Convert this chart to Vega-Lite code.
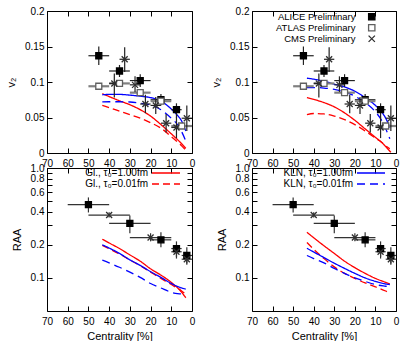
{
"$schema": "https://vega.github.io/schema/vega-lite/v6.json",
"background": "white",
"config": {
  "font": "Liberation Sans",
  "view": {"stroke": "#000", "strokeWidth": 1},
  "axis": {"domain": false, "grid": false, "tickColor": "#000", "tickSize": -5, "labelPadding": 8, "labelFontSize": 10, "titleFontSize": 11, "titleFontWeight": "normal", "labelColor": "#000", "titleColor": "#000", "labelFlush": false, "labelOverlap": false},
  "legend": {"labelFontSize": 10, "padding": 0, "rowPadding": 1, "labelLimit": 300, "labelColor": "#000"}
},
"datasets": {
  "curves": [
    {"col":"L","obs":"v2","s":"Gl., τ₀=1.00fm","c":43.3,"v":0.0835},{"col":"L","obs":"v2","s":"Gl., τ₀=1.00fm","c":40,"v":0.0795},{"col":"L","obs":"v2","s":"Gl., τ₀=1.00fm","c":35,"v":0.0735},{"col":"L","obs":"v2","s":"Gl., τ₀=1.00fm","c":30,"v":0.068},{"col":"L","obs":"v2","s":"Gl., τ₀=1.00fm","c":25,"v":0.061},{"col":"L","obs":"v2","s":"Gl., τ₀=1.00fm","c":20,"v":0.052},{"col":"L","obs":"v2","s":"Gl., τ₀=1.00fm","c":15,"v":0.040},{"col":"L","obs":"v2","s":"Gl., τ₀=1.00fm","c":10,"v":0.027},{"col":"L","obs":"v2","s":"Gl., τ₀=1.00fm","c":5,"v":0.013},{"col":"L","obs":"v2","s":"Gl., τ₀=1.00fm","c":3,"v":0.0066},
    {"col":"L","obs":"v2","s":"Gl., τ₀=0.01fm","c":43.3,"v":0.067},{"col":"L","obs":"v2","s":"Gl., τ₀=0.01fm","c":40,"v":0.064},{"col":"L","obs":"v2","s":"Gl., τ₀=0.01fm","c":35,"v":0.059},{"col":"L","obs":"v2","s":"Gl., τ₀=0.01fm","c":30,"v":0.054},{"col":"L","obs":"v2","s":"Gl., τ₀=0.01fm","c":25,"v":0.049},{"col":"L","obs":"v2","s":"Gl., τ₀=0.01fm","c":20,"v":0.0427},{"col":"L","obs":"v2","s":"Gl., τ₀=0.01fm","c":15,"v":0.035},{"col":"L","obs":"v2","s":"Gl., τ₀=0.01fm","c":10,"v":0.023},{"col":"L","obs":"v2","s":"Gl., τ₀=0.01fm","c":5,"v":0.010},{"col":"L","obs":"v2","s":"Gl., τ₀=0.01fm","c":3,"v":0.004},
    {"col":"L","obs":"v2","s":"KLN, τ₀=1.00fm","c":43.3,"v":0.082},{"col":"L","obs":"v2","s":"KLN, τ₀=1.00fm","c":40,"v":0.0825},{"col":"L","obs":"v2","s":"KLN, τ₀=1.00fm","c":35,"v":0.0825},{"col":"L","obs":"v2","s":"KLN, τ₀=1.00fm","c":30,"v":0.0815},{"col":"L","obs":"v2","s":"KLN, τ₀=1.00fm","c":25,"v":0.080},{"col":"L","obs":"v2","s":"KLN, τ₀=1.00fm","c":20,"v":0.078},{"col":"L","obs":"v2","s":"KLN, τ₀=1.00fm","c":15,"v":0.073},{"col":"L","obs":"v2","s":"KLN, τ₀=1.00fm","c":10,"v":0.062},{"col":"L","obs":"v2","s":"KLN, τ₀=1.00fm","c":7,"v":0.053},{"col":"L","obs":"v2","s":"KLN, τ₀=1.00fm","c":5,"v":0.045},{"col":"L","obs":"v2","s":"KLN, τ₀=1.00fm","c":3,"v":0.031},
    {"col":"L","obs":"v2","s":"KLN, τ₀=0.01fm","c":43.3,"v":0.072},{"col":"L","obs":"v2","s":"KLN, τ₀=0.01fm","c":40,"v":0.0722},{"col":"L","obs":"v2","s":"KLN, τ₀=0.01fm","c":35,"v":0.0722},{"col":"L","obs":"v2","s":"KLN, τ₀=0.01fm","c":30,"v":0.0718},{"col":"L","obs":"v2","s":"KLN, τ₀=0.01fm","c":25,"v":0.070},{"col":"L","obs":"v2","s":"KLN, τ₀=0.01fm","c":20,"v":0.0675},{"col":"L","obs":"v2","s":"KLN, τ₀=0.01fm","c":15,"v":0.061},{"col":"L","obs":"v2","s":"KLN, τ₀=0.01fm","c":10,"v":0.049},{"col":"L","obs":"v2","s":"KLN, τ₀=0.01fm","c":7,"v":0.040},{"col":"L","obs":"v2","s":"KLN, τ₀=0.01fm","c":5,"v":0.030},{"col":"L","obs":"v2","s":"KLN, τ₀=0.01fm","c":3,"v":0.017},

    {"col":"R","obs":"v2","s":"Gl., τ₀=1.00fm","c":43.3,"v":0.078},{"col":"R","obs":"v2","s":"Gl., τ₀=1.00fm","c":40,"v":0.0755},{"col":"R","obs":"v2","s":"Gl., τ₀=1.00fm","c":35,"v":0.071},{"col":"R","obs":"v2","s":"Gl., τ₀=1.00fm","c":30,"v":0.065},{"col":"R","obs":"v2","s":"Gl., τ₀=1.00fm","c":25,"v":0.0565},{"col":"R","obs":"v2","s":"Gl., τ₀=1.00fm","c":20,"v":0.046},{"col":"R","obs":"v2","s":"Gl., τ₀=1.00fm","c":15,"v":0.034},{"col":"R","obs":"v2","s":"Gl., τ₀=1.00fm","c":10,"v":0.022},{"col":"R","obs":"v2","s":"Gl., τ₀=1.00fm","c":7,"v":0.015},{"col":"R","obs":"v2","s":"Gl., τ₀=1.00fm","c":5,"v":0.009},{"col":"R","obs":"v2","s":"Gl., τ₀=1.00fm","c":2.5,"v":0.001},
    {"col":"R","obs":"v2","s":"Gl., τ₀=0.01fm","c":43.3,"v":0.054},{"col":"R","obs":"v2","s":"Gl., τ₀=0.01fm","c":40,"v":0.0556},{"col":"R","obs":"v2","s":"Gl., τ₀=0.01fm","c":35,"v":0.055},{"col":"R","obs":"v2","s":"Gl., τ₀=0.01fm","c":30,"v":0.052},{"col":"R","obs":"v2","s":"Gl., τ₀=0.01fm","c":25,"v":0.047},{"col":"R","obs":"v2","s":"Gl., τ₀=0.01fm","c":20,"v":0.040},{"col":"R","obs":"v2","s":"Gl., τ₀=0.01fm","c":15,"v":0.031},{"col":"R","obs":"v2","s":"Gl., τ₀=0.01fm","c":10,"v":0.021},{"col":"R","obs":"v2","s":"Gl., τ₀=0.01fm","c":7,"v":0.015},{"col":"R","obs":"v2","s":"Gl., τ₀=0.01fm","c":5,"v":0.010},{"col":"R","obs":"v2","s":"Gl., τ₀=0.01fm","c":3,"v":0.006},
    {"col":"R","obs":"v2","s":"KLN, τ₀=1.00fm","c":43.3,"v":0.1054},{"col":"R","obs":"v2","s":"KLN, τ₀=1.00fm","c":40,"v":0.104},{"col":"R","obs":"v2","s":"KLN, τ₀=1.00fm","c":35,"v":0.101},{"col":"R","obs":"v2","s":"KLN, τ₀=1.00fm","c":30,"v":0.097},{"col":"R","obs":"v2","s":"KLN, τ₀=1.00fm","c":25,"v":0.093},{"col":"R","obs":"v2","s":"KLN, τ₀=1.00fm","c":20,"v":0.087},{"col":"R","obs":"v2","s":"KLN, τ₀=1.00fm","c":15,"v":0.078},{"col":"R","obs":"v2","s":"KLN, τ₀=1.00fm","c":10,"v":0.067},{"col":"R","obs":"v2","s":"KLN, τ₀=1.00fm","c":7,"v":0.058},{"col":"R","obs":"v2","s":"KLN, τ₀=1.00fm","c":5,"v":0.049},{"col":"R","obs":"v2","s":"KLN, τ₀=1.00fm","c":3,"v":0.036},
    {"col":"R","obs":"v2","s":"KLN, τ₀=0.01fm","c":43.3,"v":0.092},{"col":"R","obs":"v2","s":"KLN, τ₀=0.01fm","c":40,"v":0.0922},{"col":"R","obs":"v2","s":"KLN, τ₀=0.01fm","c":35,"v":0.0915},{"col":"R","obs":"v2","s":"KLN, τ₀=0.01fm","c":30,"v":0.0895},{"col":"R","obs":"v2","s":"KLN, τ₀=0.01fm","c":25,"v":0.086},{"col":"R","obs":"v2","s":"KLN, τ₀=0.01fm","c":20,"v":0.080},{"col":"R","obs":"v2","s":"KLN, τ₀=0.01fm","c":15,"v":0.071},{"col":"R","obs":"v2","s":"KLN, τ₀=0.01fm","c":10,"v":0.058},{"col":"R","obs":"v2","s":"KLN, τ₀=0.01fm","c":7,"v":0.046},{"col":"R","obs":"v2","s":"KLN, τ₀=0.01fm","c":5,"v":0.034},{"col":"R","obs":"v2","s":"KLN, τ₀=0.01fm","c":3,"v":0.020},

    {"col":"L","obs":"raa","s":"Gl., τ₀=1.00fm","c":43.3,"v":0.225},{"col":"L","obs":"raa","s":"Gl., τ₀=1.00fm","c":40,"v":0.208},{"col":"L","obs":"raa","s":"Gl., τ₀=1.00fm","c":35,"v":0.185},{"col":"L","obs":"raa","s":"Gl., τ₀=1.00fm","c":30,"v":0.162},{"col":"L","obs":"raa","s":"Gl., τ₀=1.00fm","c":25,"v":0.142},{"col":"L","obs":"raa","s":"Gl., τ₀=1.00fm","c":20,"v":0.121},{"col":"L","obs":"raa","s":"Gl., τ₀=1.00fm","c":15,"v":0.106},{"col":"L","obs":"raa","s":"Gl., τ₀=1.00fm","c":10,"v":0.091},{"col":"L","obs":"raa","s":"Gl., τ₀=1.00fm","c":5,"v":0.074},{"col":"L","obs":"raa","s":"Gl., τ₀=1.00fm","c":3,"v":0.066},
    {"col":"L","obs":"raa","s":"Gl., τ₀=0.01fm","c":43.3,"v":0.198},{"col":"L","obs":"raa","s":"Gl., τ₀=0.01fm","c":40,"v":0.184},{"col":"L","obs":"raa","s":"Gl., τ₀=0.01fm","c":35,"v":0.165},{"col":"L","obs":"raa","s":"Gl., τ₀=0.01fm","c":30,"v":0.146},{"col":"L","obs":"raa","s":"Gl., τ₀=0.01fm","c":25,"v":0.129},{"col":"L","obs":"raa","s":"Gl., τ₀=0.01fm","c":20,"v":0.113},{"col":"L","obs":"raa","s":"Gl., τ₀=0.01fm","c":15,"v":0.099},{"col":"L","obs":"raa","s":"Gl., τ₀=0.01fm","c":10,"v":0.087},{"col":"L","obs":"raa","s":"Gl., τ₀=0.01fm","c":5,"v":0.076},{"col":"L","obs":"raa","s":"Gl., τ₀=0.01fm","c":3,"v":0.071},
    {"col":"L","obs":"raa","s":"KLN, τ₀=1.00fm","c":43.3,"v":0.200},{"col":"L","obs":"raa","s":"KLN, τ₀=1.00fm","c":40,"v":0.187},{"col":"L","obs":"raa","s":"KLN, τ₀=1.00fm","c":35,"v":0.167},{"col":"L","obs":"raa","s":"KLN, τ₀=1.00fm","c":30,"v":0.146},{"col":"L","obs":"raa","s":"KLN, τ₀=1.00fm","c":25,"v":0.130},{"col":"L","obs":"raa","s":"KLN, τ₀=1.00fm","c":20,"v":0.114},{"col":"L","obs":"raa","s":"KLN, τ₀=1.00fm","c":15,"v":0.101},{"col":"L","obs":"raa","s":"KLN, τ₀=1.00fm","c":10,"v":0.089},{"col":"L","obs":"raa","s":"KLN, τ₀=1.00fm","c":5,"v":0.081},{"col":"L","obs":"raa","s":"KLN, τ₀=1.00fm","c":3,"v":0.079},
    {"col":"L","obs":"raa","s":"KLN, τ₀=0.01fm","c":43.3,"v":0.145},{"col":"L","obs":"raa","s":"KLN, τ₀=0.01fm","c":40,"v":0.137},{"col":"L","obs":"raa","s":"KLN, τ₀=0.01fm","c":35,"v":0.125},{"col":"L","obs":"raa","s":"KLN, τ₀=0.01fm","c":30,"v":0.113},{"col":"L","obs":"raa","s":"KLN, τ₀=0.01fm","c":25,"v":0.101},{"col":"L","obs":"raa","s":"KLN, τ₀=0.01fm","c":20,"v":0.089},{"col":"L","obs":"raa","s":"KLN, τ₀=0.01fm","c":15,"v":0.081},{"col":"L","obs":"raa","s":"KLN, τ₀=0.01fm","c":10,"v":0.074},{"col":"L","obs":"raa","s":"KLN, τ₀=0.01fm","c":7,"v":0.072},{"col":"L","obs":"raa","s":"KLN, τ₀=0.01fm","c":5,"v":0.0715},{"col":"L","obs":"raa","s":"KLN, τ₀=0.01fm","c":3,"v":0.073},

    {"col":"R","obs":"raa","s":"Gl., τ₀=1.00fm","c":43.3,"v":0.26},{"col":"R","obs":"raa","s":"Gl., τ₀=1.00fm","c":40,"v":0.232},{"col":"R","obs":"raa","s":"Gl., τ₀=1.00fm","c":35,"v":0.196},{"col":"R","obs":"raa","s":"Gl., τ₀=1.00fm","c":30,"v":0.167},{"col":"R","obs":"raa","s":"Gl., τ₀=1.00fm","c":25,"v":0.142},{"col":"R","obs":"raa","s":"Gl., τ₀=1.00fm","c":20,"v":0.124},{"col":"R","obs":"raa","s":"Gl., τ₀=1.00fm","c":15,"v":0.110},{"col":"R","obs":"raa","s":"Gl., τ₀=1.00fm","c":10,"v":0.099},{"col":"R","obs":"raa","s":"Gl., τ₀=1.00fm","c":5,"v":0.091},{"col":"R","obs":"raa","s":"Gl., τ₀=1.00fm","c":3,"v":0.088},
    {"col":"R","obs":"raa","s":"Gl., τ₀=0.01fm","c":43.3,"v":0.21},{"col":"R","obs":"raa","s":"Gl., τ₀=0.01fm","c":40,"v":0.182},{"col":"R","obs":"raa","s":"Gl., τ₀=0.01fm","c":35,"v":0.150},{"col":"R","obs":"raa","s":"Gl., τ₀=0.01fm","c":30,"v":0.126},{"col":"R","obs":"raa","s":"Gl., τ₀=0.01fm","c":25,"v":0.110},{"col":"R","obs":"raa","s":"Gl., τ₀=0.01fm","c":20,"v":0.099},{"col":"R","obs":"raa","s":"Gl., τ₀=0.01fm","c":15,"v":0.090},{"col":"R","obs":"raa","s":"Gl., τ₀=0.01fm","c":10,"v":0.083},{"col":"R","obs":"raa","s":"Gl., τ₀=0.01fm","c":5,"v":0.076},{"col":"R","obs":"raa","s":"Gl., τ₀=0.01fm","c":3,"v":0.073},
    {"col":"R","obs":"raa","s":"KLN, τ₀=1.00fm","c":43.3,"v":0.186},{"col":"R","obs":"raa","s":"KLN, τ₀=1.00fm","c":40,"v":0.172},{"col":"R","obs":"raa","s":"KLN, τ₀=1.00fm","c":35,"v":0.153},{"col":"R","obs":"raa","s":"KLN, τ₀=1.00fm","c":30,"v":0.136},{"col":"R","obs":"raa","s":"KLN, τ₀=1.00fm","c":25,"v":0.122},{"col":"R","obs":"raa","s":"KLN, τ₀=1.00fm","c":20,"v":0.110},{"col":"R","obs":"raa","s":"KLN, τ₀=1.00fm","c":15,"v":0.100},{"col":"R","obs":"raa","s":"KLN, τ₀=1.00fm","c":10,"v":0.093},{"col":"R","obs":"raa","s":"KLN, τ₀=1.00fm","c":5,"v":0.088},{"col":"R","obs":"raa","s":"KLN, τ₀=1.00fm","c":3,"v":0.087},
    {"col":"R","obs":"raa","s":"KLN, τ₀=0.01fm","c":43.3,"v":0.160},{"col":"R","obs":"raa","s":"KLN, τ₀=0.01fm","c":40,"v":0.150},{"col":"R","obs":"raa","s":"KLN, τ₀=0.01fm","c":35,"v":0.137},{"col":"R","obs":"raa","s":"KLN, τ₀=0.01fm","c":30,"v":0.122},{"col":"R","obs":"raa","s":"KLN, τ₀=0.01fm","c":25,"v":0.110},{"col":"R","obs":"raa","s":"KLN, τ₀=0.01fm","c":20,"v":0.100},{"col":"R","obs":"raa","s":"KLN, τ₀=0.01fm","c":15,"v":0.093},{"col":"R","obs":"raa","s":"KLN, τ₀=0.01fm","c":10,"v":0.087},{"col":"R","obs":"raa","s":"KLN, τ₀=0.01fm","c":5,"v":0.084},{"col":"R","obs":"raa","s":"KLN, τ₀=0.01fm","c":3,"v":0.083}
  ],
  "v2pts": [
    {"exp":"ALICE Preliminary","c":45,"clo":40,"chi":50,"v":0.137,"vlo":0.124,"vhi":0.150},
    {"exp":"ALICE Preliminary","c":35,"clo":30,"chi":40,"v":0.1155,"vlo":0.107,"vhi":0.124},
    {"exp":"ALICE Preliminary","c":25,"clo":20,"chi":30,"v":0.102,"vlo":0.093,"vhi":0.111},
    {"exp":"ALICE Preliminary","c":15,"clo":10,"chi":20,"v":0.075,"vlo":0.067,"vhi":0.083},
    {"exp":"ALICE Preliminary","c":7.5,"clo":5,"chi":10,"v":0.061,"vlo":0.050,"vhi":0.070},
    {"exp":"ATLAS Preliminary","c":45,"clo":40,"chi":50,"v":0.094,"vlo":0.092,"vhi":0.096},
    {"exp":"ATLAS Preliminary","c":35,"clo":30,"chi":40,"v":0.098,"vlo":0.096,"vhi":0.100},
    {"exp":"ATLAS Preliminary","c":25,"clo":20,"chi":30,"v":0.085,"vlo":0.083,"vhi":0.087},
    {"exp":"ATLAS Preliminary","c":15,"clo":10,"chi":20,"v":0.073,"vlo":0.071,"vhi":0.075},
    {"exp":"ATLAS Preliminary","c":5,"clo":0,"chi":10,"v":0.038,"vlo":0.036,"vhi":0.040},
    {"exp":"CMS Preliminary","c":37.5,"clo":35,"chi":40,"v":0.098,"vlo":0.078,"vhi":0.112},
    {"exp":"CMS Preliminary","c":32.5,"clo":30,"chi":35,"v":0.132,"vlo":0.114,"vhi":0.149},
    {"exp":"CMS Preliminary","c":27.5,"clo":25,"chi":30,"v":0.096,"vlo":0.086,"vhi":0.108},
    {"exp":"CMS Preliminary","c":22.5,"clo":20,"chi":25,"v":0.069,"vlo":0.056,"vhi":0.082},
    {"exp":"CMS Preliminary","c":17.5,"clo":15,"chi":20,"v":0.067,"vlo":0.055,"vhi":0.079},
    {"exp":"CMS Preliminary","c":12.5,"clo":10,"chi":15,"v":0.042,"vlo":0.029,"vhi":0.055},
    {"exp":"CMS Preliminary","c":7.5,"clo":5,"chi":10,"v":0.036,"vlo":0.021,"vhi":0.051},
    {"exp":"CMS Preliminary","c":2.5,"clo":0,"chi":5,"v":0.049,"vlo":0.031,"vhi":0.067}
  ],
  "raapts": [
    {"exp":"ALICE Preliminary","c":50,"clo":40,"chi":60,"v":0.464,"vlo":0.394,"vhi":0.54},
    {"exp":"ALICE Preliminary","c":30,"clo":20,"chi":40,"v":0.313,"vlo":0.255,"vhi":0.37},
    {"exp":"ALICE Preliminary","c":15,"clo":10,"chi":20,"v":0.222,"vlo":0.19,"vhi":0.26},
    {"exp":"ALICE Preliminary","c":7.5,"clo":5,"chi":10,"v":0.185,"vlo":0.15,"vhi":0.215},
    {"exp":"ALICE Preliminary","c":2.5,"clo":0,"chi":5,"v":0.16,"vlo":0.132,"vhi":0.19},
    {"exp":"CMS Preliminary","c":40,"clo":30,"chi":50,"v":0.373,"vlo":0.355,"vhi":0.395},
    {"exp":"CMS Preliminary","c":20,"clo":10,"chi":30,"v":0.233,"vlo":0.215,"vhi":0.255},
    {"exp":"CMS Preliminary","c":7.5,"clo":5,"chi":10,"v":0.173,"vlo":0.155,"vhi":0.19},
    {"exp":"CMS Preliminary","c":2.5,"clo":0,"chi":5,"v":0.148,"vlo":0.135,"vhi":0.165}
  ]
},
"columns": 2,
"bounds": "flush",
"spacing": {"row": 15, "column": 60},
"resolve": {
  "scale": {"x": "independent", "y": "independent", "color": "independent", "strokeDash": "independent", "strokeWidth": "independent", "shape": "independent", "fill": "independent", "stroke": "independent"},
  "legend": {"color": "independent", "strokeDash": "independent", "strokeWidth": "independent", "shape": "independent", "fill": "independent", "stroke": "independent"}
},
"concat": [
  {
    "width": 145, "height": 142,
    "resolve": {"axis": {"x": "independent", "y": "independent"}},
    "layer": [
      {"layer": [
        {"data": {"name": "curves"}, "transform": [{"filter": "datum.col==='L' && datum.obs==='v2'"}],
         "mark": {"type": "line", "interpolate": "monotone"},
         "encoding": {
           "x": {"field": "c", "type": "quantitative", "scale": {"domain": [0, 70], "reverse": true, "nice": false, "zero": false}, "axis": {"values": [0,10,20,30,40,50,60,70], "tickCount": 50, "format": "d", "title": null, "labelOverlap": false, "labelPadding": 10}},
           "y": {"field": "v", "type": "quantitative", "scale": {"domain": [0, 0.2], "nice": false}, "axis": {"values": [0,0.05,0.1,0.15,0.2], "tickCount": 50, "format": ".2~f", "title": "v₂", "titlePadding": 8, "labelOverlap": false}},
           "color": {"field": "s", "type": "nominal", "scale": {"domain": ["Gl., τ₀=1.00fm","Gl., τ₀=0.01fm","KLN, τ₀=1.00fm","KLN, τ₀=0.01fm"], "range": ["#ff0000","#ff0000","#0000ff","#0000ff"]}, "legend": null},
           "strokeDash": {"field": "s", "type": "nominal", "scale": {"domain": ["Gl., τ₀=1.00fm","Gl., τ₀=0.01fm","KLN, τ₀=1.00fm","KLN, τ₀=0.01fm"], "range": [[1,0],[7,4],[1,0],[8,5]]}, "legend": null},
           "strokeWidth": {"field": "s", "type": "nominal", "scale": {"domain": ["Gl., τ₀=1.00fm","Gl., τ₀=0.01fm","KLN, τ₀=1.00fm","KLN, τ₀=0.01fm"], "range": [1.3,1.3,2.8,2.8]}, "legend": null}
         }},
        {"data": {"name": "v2pts"}, "mark": {"type": "rule"},
         "encoding": {"x": {"field": "clo", "type": "quantitative"}, "x2": {"field": "chi"}, "y": {"field": "v", "type": "quantitative"},
           "stroke": {"condition": {"test": "datum.exp==='ATLAS Preliminary'", "value": "#808080"}, "value": "#222"},
           "strokeWidth": {"condition": {"test": "datum.exp==='ATLAS Preliminary'", "value": 2.2}, "value": 1.2}}},
        {"data": {"name": "v2pts"}, "mark": {"type": "rule"},
         "encoding": {"x": {"field": "c", "type": "quantitative"}, "y": {"field": "vlo", "type": "quantitative"}, "y2": {"field": "vhi"},
           "stroke": {"condition": {"test": "datum.exp==='ATLAS Preliminary'", "value": "#808080"}, "value": "#222"},
           "strokeWidth": {"condition": {"test": "datum.exp==='ATLAS Preliminary'", "value": 2.2}, "value": 1.2}}},
        {"data": {"name": "v2pts"}, "mark": {"type": "point", "size": 36, "strokeWidth": 1.3, "opacity": 1, "fillOpacity": 1},
         "encoding": {"x": {"field": "c", "type": "quantitative"}, "y": {"field": "v", "type": "quantitative"},
           "shape": {"field": "exp", "type": "nominal", "scale": {"domain": ["ALICE Preliminary","ATLAS Preliminary","CMS Preliminary"], "range": ["square","square","M-1,-1L1,1M-1,1L1,-1"]}, "legend": null},
           "fill": {"field": "exp", "type": "nominal", "scale": {"domain": ["ALICE Preliminary","ATLAS Preliminary","CMS Preliminary"], "range": ["#000000","#ffffff","transparent"]}, "legend": null},
           "stroke": {"field": "exp", "type": "nominal", "scale": {"domain": ["ALICE Preliminary","ATLAS Preliminary","CMS Preliminary"], "range": ["#000000","#606060","#303030"]}, "legend": null}}}
      ]},
      {"data": {"name": "v2pts"}, "mark": {"type": "point", "opacity": 0},
       "encoding": {
         "x": {"field": "c", "type": "quantitative", "scale": {"domain": [0, 70], "reverse": true, "nice": false, "zero": false}, "axis": {"orient": "top", "values": [0,10,20,30,40,50,60,70], "tickCount": 50, "labels": false, "title": null}},
         "y": {"field": "v", "type": "quantitative", "scale": {"domain": [0, 0.2], "nice": false}, "axis": {"orient": "right", "values": [0,0.05,0.1,0.15,0.2], "tickCount": 50, "labels": false, "title": null}}}}
    ]
  },
  {
    "width": 144, "height": 142,
    "resolve": {"axis": {"x": "independent", "y": "independent"}},
    "layer": [
      {"layer": [
        {"data": {"name": "curves"}, "transform": [{"filter": "datum.col==='R' && datum.obs==='v2'"}],
         "mark": {"type": "line", "interpolate": "monotone"},
         "encoding": {
           "x": {"field": "c", "type": "quantitative", "scale": {"domain": [0, 70], "reverse": true, "nice": false, "zero": false}, "axis": {"values": [0,10,20,30,40,50,60,70], "tickCount": 50, "format": "d", "title": null, "labelOverlap": false, "labelPadding": 10}},
           "y": {"field": "v", "type": "quantitative", "scale": {"domain": [0, 0.2], "nice": false}, "axis": {"values": [0,0.05,0.1,0.15,0.2], "tickCount": 50, "format": ".2~f", "title": "v₂", "titlePadding": 8, "labelOverlap": false}},
           "color": {"field": "s", "type": "nominal", "scale": {"domain": ["Gl., τ₀=1.00fm","Gl., τ₀=0.01fm","KLN, τ₀=1.00fm","KLN, τ₀=0.01fm"], "range": ["#ff0000","#ff0000","#0000ff","#0000ff"]}, "legend": null},
           "strokeDash": {"field": "s", "type": "nominal", "scale": {"domain": ["Gl., τ₀=1.00fm","Gl., τ₀=0.01fm","KLN, τ₀=1.00fm","KLN, τ₀=0.01fm"], "range": [[1,0],[7,4],[1,0],[8,5]]}, "legend": null},
           "strokeWidth": {"field": "s", "type": "nominal", "scale": {"domain": ["Gl., τ₀=1.00fm","Gl., τ₀=0.01fm","KLN, τ₀=1.00fm","KLN, τ₀=0.01fm"], "range": [1.3,1.3,2.8,2.8]}, "legend": null}
         }},
        {"data": {"name": "v2pts"}, "mark": {"type": "rule"},
         "encoding": {"x": {"field": "clo", "type": "quantitative"}, "x2": {"field": "chi"}, "y": {"field": "v", "type": "quantitative"},
           "stroke": {"condition": {"test": "datum.exp==='ATLAS Preliminary'", "value": "#808080"}, "value": "#222"},
           "strokeWidth": {"condition": {"test": "datum.exp==='ATLAS Preliminary'", "value": 2.2}, "value": 1.2}}},
        {"data": {"name": "v2pts"}, "mark": {"type": "rule"},
         "encoding": {"x": {"field": "c", "type": "quantitative"}, "y": {"field": "vlo", "type": "quantitative"}, "y2": {"field": "vhi"},
           "stroke": {"condition": {"test": "datum.exp==='ATLAS Preliminary'", "value": "#808080"}, "value": "#222"},
           "strokeWidth": {"condition": {"test": "datum.exp==='ATLAS Preliminary'", "value": 2.2}, "value": 1.2}}},
        {"data": {"name": "v2pts"}, "mark": {"type": "point", "size": 36, "strokeWidth": 1.3, "opacity": 1, "fillOpacity": 1},
         "encoding": {"x": {"field": "c", "type": "quantitative"}, "y": {"field": "v", "type": "quantitative"},
           "shape": {"field": "exp", "type": "nominal", "scale": {"domain": ["ALICE Preliminary","ATLAS Preliminary","CMS Preliminary"], "range": ["square","square","M-1,-1L1,1M-1,1L1,-1"]}, "legend": {"title": null, "orient": "none", "legendX": 115, "legendY": 1, "labelAlign": "right", "labelOffset": -21, "symbolSize": 40, "symbolStrokeWidth": 1.3, "labelFontSize": 9.5, "rowPadding": -4}},
           "fill": {"field": "exp", "type": "nominal", "scale": {"domain": ["ALICE Preliminary","ATLAS Preliminary","CMS Preliminary"], "range": ["#000000","#ffffff","transparent"]}, "legend": {"title": null, "orient": "none", "legendX": 115, "legendY": 1, "labelAlign": "right", "labelOffset": -21, "symbolSize": 40, "symbolStrokeWidth": 1.3, "labelFontSize": 9.5, "rowPadding": -4}},
           "stroke": {"field": "exp", "type": "nominal", "scale": {"domain": ["ALICE Preliminary","ATLAS Preliminary","CMS Preliminary"], "range": ["#000000","#606060","#303030"]}, "legend": {"title": null, "orient": "none", "legendX": 115, "legendY": 1, "labelAlign": "right", "labelOffset": -21, "symbolSize": 40, "symbolStrokeWidth": 1.3, "labelFontSize": 9.5, "rowPadding": -4}}}}
      ]},
      {"data": {"name": "v2pts"}, "mark": {"type": "point", "opacity": 0},
       "encoding": {
         "x": {"field": "c", "type": "quantitative", "scale": {"domain": [0, 70], "reverse": true, "nice": false, "zero": false}, "axis": {"orient": "top", "values": [0,10,20,30,40,50,60,70], "tickCount": 50, "labels": false, "title": null}},
         "y": {"field": "v", "type": "quantitative", "scale": {"domain": [0, 0.2], "nice": false}, "axis": {"orient": "right", "values": [0,0.05,0.1,0.15,0.2], "tickCount": 50, "labels": false, "title": null}}}}
    ]
  },
  {
    "width": 145, "height": 143,
    "resolve": {"axis": {"x": "independent", "y": "independent"}},
    "layer": [
      {"layer": [
        {"data": {"name": "curves"}, "transform": [{"filter": "datum.col==='L' && datum.obs==='raa'"}],
         "mark": {"type": "line", "interpolate": "monotone"},
         "encoding": {
           "x": {"field": "c", "type": "quantitative", "scale": {"domain": [0, 70], "reverse": true, "nice": false, "zero": false}, "axis": {"values": [0,10,20,30,40,50,60,70], "tickCount": 50, "format": "d", "title": "Centrality [%]", "labelOverlap": false, "labelPadding": 10}},
           "y": {"field": "v", "type": "quantitative", "scale": {"type": "log", "domain": [0.05, 1], "nice": false}, "axis": {"values": [0.1,0.2,0.3,0.4,0.5,0.6,0.7,0.8,0.9,1], "tickCount": 50, "labelExpr": "(abs(datum.value-0.3)<0.01||abs(datum.value-0.5)<0.01||abs(datum.value-0.7)<0.01||abs(datum.value-0.9)<0.01) ? '' : format(datum.value, '.1f')", "title": "RAA", "titlePadding": 8, "labelOverlap": false}},
           "color": {"field": "s", "type": "nominal", "scale": {"domain": ["Gl., τ₀=1.00fm","Gl., τ₀=0.01fm","KLN, τ₀=1.00fm","KLN, τ₀=0.01fm"], "range": ["#ff0000","#ff0000","#0000ff","#0000ff"]}, "legend": {"title": null, "orient": "none", "legendX": 113, "legendY": -1, "values": ["Gl., τ₀=1.00fm","Gl., τ₀=0.01fm"], "symbolType": "M-2.8,0H2.8", "symbolSize": 100, "labelAlign": "right", "labelOffset": -24, "rowPadding": -1}},
           "strokeDash": {"field": "s", "type": "nominal", "scale": {"domain": ["Gl., τ₀=1.00fm","Gl., τ₀=0.01fm","KLN, τ₀=1.00fm","KLN, τ₀=0.01fm"], "range": [[1,0],[7,4],[1,0],[8,5]]}, "legend": {"title": null, "orient": "none", "legendX": 113, "legendY": -1, "values": ["Gl., τ₀=1.00fm","Gl., τ₀=0.01fm"], "symbolType": "M-2.8,0H2.8", "symbolSize": 100, "labelAlign": "right", "labelOffset": -24, "rowPadding": -1}},
           "strokeWidth": {"field": "s", "type": "nominal", "scale": {"domain": ["Gl., τ₀=1.00fm","Gl., τ₀=0.01fm","KLN, τ₀=1.00fm","KLN, τ₀=0.01fm"], "range": [1.3,1.3,2.8,2.8]}, "legend": {"title": null, "orient": "none", "legendX": 113, "legendY": -1, "values": ["Gl., τ₀=1.00fm","Gl., τ₀=0.01fm"], "symbolType": "M-2.8,0H2.8", "symbolSize": 100, "labelAlign": "right", "labelOffset": -24, "rowPadding": -1}}
         }},
        {"data": {"name": "raapts"}, "mark": {"type": "rule"},
         "encoding": {"x": {"field": "clo", "type": "quantitative"}, "x2": {"field": "chi"}, "y": {"field": "v", "type": "quantitative"}, "stroke": {"value": "#333"}, "strokeWidth": {"value": 1.2}}},
        {"data": {"name": "raapts"}, "mark": {"type": "rule"},
         "encoding": {"x": {"field": "c", "type": "quantitative"}, "y": {"field": "vlo", "type": "quantitative"}, "y2": {"field": "vhi"}, "stroke": {"value": "#333"}, "strokeWidth": {"value": 1.2}}},
        {"data": {"name": "raapts"}, "mark": {"type": "point", "size": 36, "strokeWidth": 1.3, "opacity": 1, "fillOpacity": 1},
         "encoding": {"x": {"field": "c", "type": "quantitative"}, "y": {"field": "v", "type": "quantitative"},
           "shape": {"field": "exp", "type": "nominal", "scale": {"domain": ["ALICE Preliminary","ATLAS Preliminary","CMS Preliminary"], "range": ["square","square","M-1,-1L1,1M-1,1L1,-1"]}, "legend": null},
           "fill": {"field": "exp", "type": "nominal", "scale": {"domain": ["ALICE Preliminary","ATLAS Preliminary","CMS Preliminary"], "range": ["#000000","#ffffff","transparent"]}, "legend": null},
           "stroke": {"field": "exp", "type": "nominal", "scale": {"domain": ["ALICE Preliminary","ATLAS Preliminary","CMS Preliminary"], "range": ["#000000","#606060","#303030"]}, "legend": null}}}
      ]},
      {"data": {"name": "raapts"}, "mark": {"type": "point", "opacity": 0},
       "encoding": {
         "x": {"field": "c", "type": "quantitative", "scale": {"domain": [0, 70], "reverse": true, "nice": false, "zero": false}, "axis": {"orient": "top", "values": [0,10,20,30,40,50,60,70], "tickCount": 50, "labels": false, "title": null}},
         "y": {"field": "v", "type": "quantitative", "scale": {"type": "log", "domain": [0.05, 1], "nice": false}, "axis": {"orient": "right", "values": [0.1,0.2,0.3,0.4,0.5,0.6,0.7,0.8,0.9,1], "tickCount": 50, "labels": false, "title": null}}}}
    ]
  },
  {
    "width": 144, "height": 143,
    "resolve": {"axis": {"x": "independent", "y": "independent"}},
    "layer": [
      {"layer": [
        {"data": {"name": "curves"}, "transform": [{"filter": "datum.col==='R' && datum.obs==='raa'"}],
         "mark": {"type": "line", "interpolate": "monotone"},
         "encoding": {
           "x": {"field": "c", "type": "quantitative", "scale": {"domain": [0, 70], "reverse": true, "nice": false, "zero": false}, "axis": {"values": [0,10,20,30,40,50,60,70], "tickCount": 50, "format": "d", "title": "Centrality [%]", "labelOverlap": false, "labelPadding": 10}},
           "y": {"field": "v", "type": "quantitative", "scale": {"type": "log", "domain": [0.05, 1], "nice": false}, "axis": {"values": [0.1,0.2,0.3,0.4,0.5,0.6,0.7,0.8,0.9,1], "tickCount": 50, "labelExpr": "(abs(datum.value-0.3)<0.01||abs(datum.value-0.5)<0.01||abs(datum.value-0.7)<0.01||abs(datum.value-0.9)<0.01) ? '' : format(datum.value, '.1f')", "title": "RAA", "titlePadding": 8, "labelOverlap": false}},
           "color": {"field": "s", "type": "nominal", "scale": {"domain": ["Gl., τ₀=1.00fm","Gl., τ₀=0.01fm","KLN, τ₀=1.00fm","KLN, τ₀=0.01fm"], "range": ["#ff0000","#ff0000","#0000ff","#0000ff"]}, "legend": {"title": null, "orient": "none", "legendX": 113, "legendY": -1, "values": ["KLN, τ₀=1.00fm","KLN, τ₀=0.01fm"], "symbolType": "M-2.8,0H2.8", "symbolSize": 100, "labelAlign": "right", "labelOffset": -24, "rowPadding": -1}},
           "strokeDash": {"field": "s", "type": "nominal", "scale": {"domain": ["Gl., τ₀=1.00fm","Gl., τ₀=0.01fm","KLN, τ₀=1.00fm","KLN, τ₀=0.01fm"], "range": [[1,0],[7,4],[1,0],[8,5]]}, "legend": {"title": null, "orient": "none", "legendX": 113, "legendY": -1, "values": ["KLN, τ₀=1.00fm","KLN, τ₀=0.01fm"], "symbolType": "M-2.8,0H2.8", "symbolSize": 100, "labelAlign": "right", "labelOffset": -24, "rowPadding": -1}},
           "strokeWidth": {"field": "s", "type": "nominal", "scale": {"domain": ["Gl., τ₀=1.00fm","Gl., τ₀=0.01fm","KLN, τ₀=1.00fm","KLN, τ₀=0.01fm"], "range": [1.3,1.3,2.8,2.8]}, "legend": {"title": null, "orient": "none", "legendX": 113, "legendY": -1, "values": ["KLN, τ₀=1.00fm","KLN, τ₀=0.01fm"], "symbolType": "M-2.8,0H2.8", "symbolSize": 100, "labelAlign": "right", "labelOffset": -24, "rowPadding": -1}}
         }},
        {"data": {"name": "raapts"}, "mark": {"type": "rule"},
         "encoding": {"x": {"field": "clo", "type": "quantitative"}, "x2": {"field": "chi"}, "y": {"field": "v", "type": "quantitative"}, "stroke": {"value": "#333"}, "strokeWidth": {"value": 1.2}}},
        {"data": {"name": "raapts"}, "mark": {"type": "rule"},
         "encoding": {"x": {"field": "c", "type": "quantitative"}, "y": {"field": "vlo", "type": "quantitative"}, "y2": {"field": "vhi"}, "stroke": {"value": "#333"}, "strokeWidth": {"value": 1.2}}},
        {"data": {"name": "raapts"}, "mark": {"type": "point", "size": 36, "strokeWidth": 1.3, "opacity": 1, "fillOpacity": 1},
         "encoding": {"x": {"field": "c", "type": "quantitative"}, "y": {"field": "v", "type": "quantitative"},
           "shape": {"field": "exp", "type": "nominal", "scale": {"domain": ["ALICE Preliminary","ATLAS Preliminary","CMS Preliminary"], "range": ["square","square","M-1,-1L1,1M-1,1L1,-1"]}, "legend": null},
           "fill": {"field": "exp", "type": "nominal", "scale": {"domain": ["ALICE Preliminary","ATLAS Preliminary","CMS Preliminary"], "range": ["#000000","#ffffff","transparent"]}, "legend": null},
           "stroke": {"field": "exp", "type": "nominal", "scale": {"domain": ["ALICE Preliminary","ATLAS Preliminary","CMS Preliminary"], "range": ["#000000","#606060","#303030"]}, "legend": null}}}
      ]},
      {"data": {"name": "raapts"}, "mark": {"type": "point", "opacity": 0},
       "encoding": {
         "x": {"field": "c", "type": "quantitative", "scale": {"domain": [0, 70], "reverse": true, "nice": false, "zero": false}, "axis": {"orient": "top", "values": [0,10,20,30,40,50,60,70], "tickCount": 50, "labels": false, "title": null}},
         "y": {"field": "v", "type": "quantitative", "scale": {"type": "log", "domain": [0.05, 1], "nice": false}, "axis": {"orient": "right", "values": [0.1,0.2,0.3,0.4,0.5,0.6,0.7,0.8,0.9,1], "tickCount": 50, "labels": false, "title": null}}}}
    ]
  }
]
}
